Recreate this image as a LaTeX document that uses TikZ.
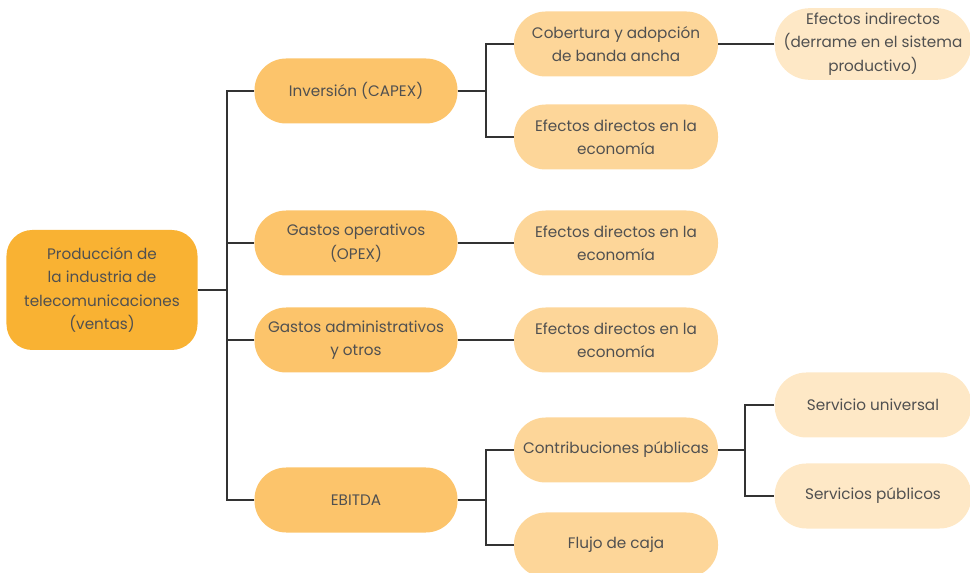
\documentclass[tikz,border=0pt]{standalone}
\usepackage{fontspec}
\setmainfont{Poppins}
\definecolor{rootcol}{HTML}{F9B233}
\definecolor{lvlacol}{HTML}{FCC46B}
\definecolor{lvlbcol}{HTML}{FDD699}
\definecolor{lvlccol}{HTML}{FEE8C6}
\definecolor{txtcol}{HTML}{505050}
\definecolor{linecol}{HTML}{333333}
\begin{document}
\begin{tikzpicture}[x=0.03cm,y=-0.03cm,
    box/.style={rounded corners=27pt,align=center,text=txtcol,font=\fontsize{13}{20}\selectfont,inner sep=0pt},
    rootbox/.style={box,fill=rootcol,minimum width=5.73cm,minimum height=3.6cm,rounded corners=22pt},
    lvla/.style={box,fill=lvlacol,minimum width=6.09cm,minimum height=1.95cm},
    lvlb/.style={box,fill=lvlbcol,minimum width=6.12cm,minimum height=1.95cm},
    lvlc/.style={box,fill=lvlccol,minimum width=5.9cm,minimum height=1.95cm},
    link/.style={draw=linecol,line width=1.3pt}]
      \useasboundingbox (0,0) rectangle (970,573);
      \draw
        (102,290) node[rootbox] (root){Producción de\\la industria de\\telecomunicaciones\\(ventas)}
        (356,91) node[lvla] (capex){Inversión (CAPEX)}
        (356,243) node[lvla] (opex){Gastos operativos\\(OPEX)}
        (356,340) node[lvla] (admin){Gastos administrativos\\y otros}
        (356,500) node[lvla] (ebitda){EBITDA}
        (616,44) node[lvlb] (cob){Cobertura y adopción\\de banda ancha}
        (616,137) node[lvlb] (efda){Efectos directos en la\\economía}
        (616,243) node[lvlb] (efdb){Efectos directos en la\\economía}
        (616,340) node[lvlb] (efdc){Efectos directos en la\\economía}
        (616,450) node[lvlb] (contrib){Contribuciones públicas}
        (616,545) node[lvlb] (flujo){Flujo de caja}
        (873,44) node[lvlc,minimum height=2.15cm,rounded corners=30pt] (efind){Efectos indirectos\\(derrame en el sistema\\productivo)}
        (873,405) node[lvlc] (servu){Servicio universal}
        (873,496) node[lvlc] (servp){Servicios públicos};
      \coordinate (busa) at (227,290);
      \coordinate (busb) at (486,91);
      \coordinate (busc) at (486,500);
      \coordinate (busd) at (745,450);
      \begin{scope}[link]
        \draw (root) -- (busa);
        \draw (busa) |- (capex);
        \draw (busa) |- (opex);
        \draw (busa) |- (admin);
        \draw (busa) |- (ebitda);
        \draw (capex) -- (busb);
        \draw (busb) |- (cob);
        \draw (busb) |- (efda);
        \draw (opex) -- (efdb);
        \draw (admin) -- (efdc);
        \draw (ebitda) -- (busc);
        \draw (busc) |- (contrib);
        \draw (busc) |- (flujo);
        \draw (cob) -- (cob -| efind.west);
        \draw (contrib) -- (busd);
        \draw (busd) |- (servu);
        \draw (busd) |- (servp);
      \end{scope}
    \end{tikzpicture}
\end{document}
